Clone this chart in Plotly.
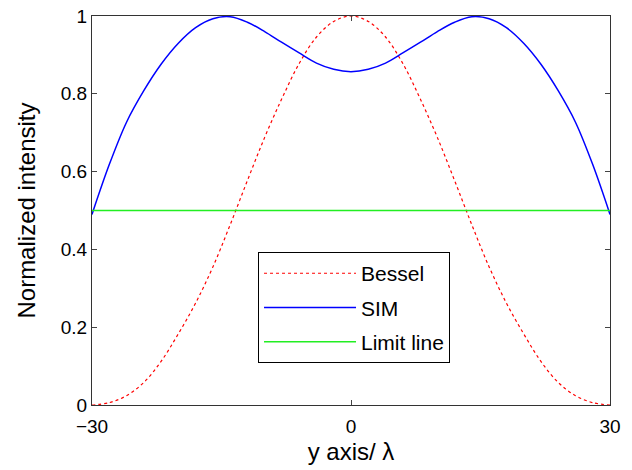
import plotly.graph_objects as go

# x positions (y axis / lambda), right half; the curves are mirrored about 0
x_half = [0, 2, 4, 6, 8, 10, 12, 14, 16, 18, 20, 22, 24, 26, 28, 30]
bessel_half = [1.0, 0.986, 0.946, 0.878, 0.788, 0.688, 0.577, 0.463, 0.355, 0.262, 0.183, 0.112, 0.058, 0.024, 0.006, 0.0]
sim_half = [0.857, 0.863, 0.879, 0.905, 0.932, 0.960, 0.984, 0.998, 0.993, 0.970, 0.930, 0.876, 0.808, 0.727, 0.618, 0.49]
limit_value = 0.5

x = [-v for v in x_half[:0:-1]] + x_half
bessel = bessel_half[:0:-1] + bessel_half
sim = sim_half[:0:-1] + sim_half
limit = [limit_value for _ in x]

x_ticks = [-30, 0, 30]
y_ticks = [0, 0.2, 0.4, 0.6, 0.8, 1]
y_tick_text = ["0", "0.2", "0.4", "0.6", "0.8", "1"]

font = "Liberation Sans, Arial, sans-serif"

fig = go.Figure()
fig.add_trace(go.Scatter(x=x, y=bessel, mode="lines", name="Bessel", legendgroup="a",
                         line=dict(color="#ff0000", width=1.2, dash="dot", shape="spline", smoothing=1.0)))
fig.add_trace(go.Scatter(x=x, y=sim, mode="lines", name="SIM", legendgroup="b",
                         line=dict(color="#0000ff", width=1.5, shape="spline", smoothing=1.0)))
fig.add_trace(go.Scatter(x=x, y=limit, mode="lines", name="Limit line", legendgroup="c",
                         line=dict(color="#22ee22", width=1.5)))

fig.update_layout(
    width=632, height=470,
    margin=dict(l=92, r=22, t=16, b=65),
    paper_bgcolor="white", plot_bgcolor="white",
    font=dict(family=font, size=19, color="black"),
    showlegend=True,
    legend=dict(x=0.3205, y=0.393, xanchor="left", yanchor="top",
                bordercolor="black", borderwidth=1, bgcolor="white",
                font=dict(family=font, size=21, color="black"),
                tracegroupgap=4, itemwidth=92),
    xaxis=dict(range=[-30, 30], tickvals=x_ticks, ticks="inside", ticklen=5,
               showline=True, linecolor="#333333", linewidth=1.3, mirror="ticks",
               showgrid=False, zeroline=False, ticklabelstandoff=4, automargin=False,
               title=dict(text="y axis/ λ", font=dict(size=24), standoff=7),
               tickfont=dict(size=19)),
    yaxis=dict(range=[0, 1], tickvals=y_ticks, ticktext=y_tick_text, ticks="inside", ticklen=5,
               showline=True, linecolor="#333333", linewidth=1.3, mirror="ticks",
               showgrid=False, zeroline=False, automargin=False,
               title=dict(text="Normalized intensity", font=dict(size=24), standoff=18),
               tickfont=dict(size=19)),
)

fig.write_html("out.html")
